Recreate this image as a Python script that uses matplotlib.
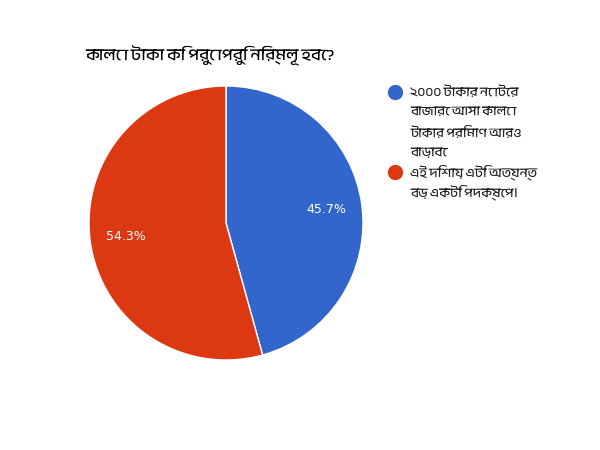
import matplotlib
matplotlib.use("Agg")
import matplotlib.pyplot as plt
from matplotlib import font_manager
from matplotlib.lines import Line2D

title = "কালো টাকা কি পুরোপুরি নির্মূল হবে?"
labels = ["২০০০ টাকার নোটের\nবাজারে আসা কালো\nটাকার পরিমাণ আরও\nবাড়াবে",
          "এই দিশায় এটি অত্যন্ত\nবড় একটি পদক্ষেপ।"]
values = [45.7, 54.3]
colors = ["#3366cc", "#dc3912"]

# look for any installed font with Bengali glyphs
beng = []
for f in font_manager.fontManager.ttflist:
    n = f.name
    if any(k in n for k in ("Bengali", "Bangla", "Lohit", "Mukti", "Vrinda", "Kalpurush", "Siyam")):
        if n not in beng:
            beng.append(n)
plt.rcParams["font.family"] = beng + ["DejaVu Sans"]

W, H = 600, 450
fig = plt.figure(figsize=(6, 4.5), dpi=100)
cx, cy, r = 226, 223, 137
ax = fig.add_axes([(cx - r) / W, 1 - (cy + r) / H, 2 * r / W, 2 * r / H])

wedges, texts, autotexts = ax.pie(
    values, colors=colors, startangle=90, counterclock=False,
    autopct="%.1f%%", pctdistance=0.74,
    wedgeprops=dict(edgecolor="white", linewidth=1),
    textprops=dict(color="white", fontsize=9, family=["DejaVu Sans"]))
ax.set_xlim(-1, 1)
ax.set_ylim(-1, 1)
ax.set_aspect("equal")
ax.axis("off")

fig.text(85 / W, 1 - 56 / H, title, fontsize=12, fontweight="bold",
         va="center", ha="left", color="black")

# legend drawn by hand so the dot sits on the first line
y = 92
for lab, c in zip(labels, colors):
    fig.add_artist(Line2D([395 / W], [1 - y / H], marker="o", ls="",
                          markersize=10, markerfacecolor=c, markeredgecolor=c,
                          transform=fig.transFigure))
    for line in lab.split("\n"):
        fig.text(410 / W, 1 - y / H, line, fontsize=9.5, va="center",
                 ha="left", color="#222222")
        y += 20

fig.savefig("out.png", dpi=100)
